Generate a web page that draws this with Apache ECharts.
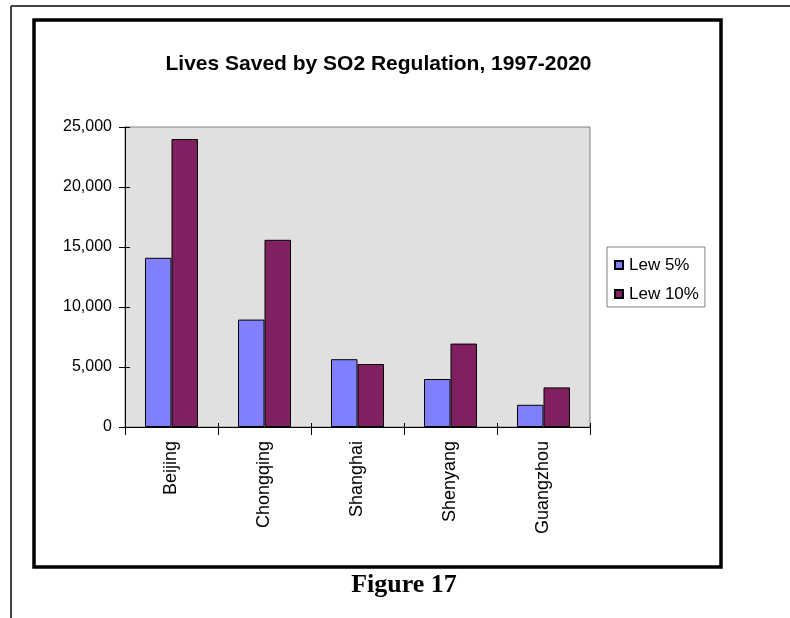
<!DOCTYPE html>
<html>
<head>
<meta charset="utf-8">
<script src="https://cdn.jsdelivr.net/npm/echarts@6/dist/echarts.min.js"></script>
<style>
  html, body { margin: 0; padding: 0; background: #ffffff; }
  #chart { width: 790px; height: 618px; }
</style>
</head>
<body>
<div id="chart"></div>
<script>
// Cities and lives saved under the two levy scenarios
const cities = ['Beijing', 'Chongqing', 'Shanghai', 'Shenyang', 'Guangzhou'];
const levy5 = [14100, 8950, 5650, 4000, 1850];
const levy10 = [24000, 15600, 5250, 6950, 3300];
const seriesNames = ['Lew 5%', 'Lew 10%'];
const chartTitle = 'Lives Saved by SO2 Regulation, 1997-2020';
const figureCaption = 'Figure 17';
const yTicks = { min: 0, max: 25000, interval: 5000 };

const chart = echarts.init(document.getElementById('chart'), null, { renderer: 'canvas' });

const sans = '"Liberation Sans", Arial, sans-serif';
const fmt = v => v.toLocaleString('en-US');
const gridPos = { left: 125, right: 200, top: 127, bottom: 191 };

const option = {
  backgroundColor: '#ffffff',
  animation: false,
  legend: {
    orient: 'vertical',
    left: 607,
    top: 247,
    padding: [9, 6, 4, 7],
    itemGap: 11,
    itemWidth: 8,
    itemHeight: 8,
    icon: 'rect',
    backgroundColor: '#ffffff',
    borderColor: '#808080',
    borderWidth: 1,
    textStyle: { fontFamily: sans, fontSize: 17, color: '#000', lineHeight: 18, padding: [0, 0, 0, 1] },
    data: seriesNames
  },
  grid: Object.assign({
    show: true,
    backgroundColor: '#e0e0e0',
    borderColor: '#808080',
    borderWidth: 1,
    containLabel: false
  }, gridPos),
  xAxis: [{
    type: 'category',
    data: cities,
    boundaryGap: true,
    axisLine: { lineStyle: { color: '#000', width: 1 } },
    axisTick: { show: true, inside: false, length: 8, lineStyle: { color: '#000' } },
    axisLabel: { rotate: 90, margin: 14, fontFamily: sans, fontSize: 18, color: '#000' },
    splitLine: { show: false }
  }, {
    type: 'category',
    data: cities,
    position: 'bottom',
    boundaryGap: true,
    axisLine: { show: false },
    axisTick: { show: true, inside: true, length: 4, lineStyle: { color: '#000' } },
    axisLabel: { show: false },
    splitLine: { show: false }
  }],
  yAxis: [{
    type: 'value',
    min: yTicks.min,
    max: yTicks.max,
    interval: yTicks.interval,
    axisLine: { show: true, lineStyle: { color: '#000', width: 1 } },
    axisTick: { show: true, inside: false, length: 6, lineStyle: { color: '#000' } },
    axisLabel: { margin: 13, fontFamily: sans, fontSize: 16, color: '#000', formatter: fmt },
    splitLine: { show: false }
  }, {
    type: 'value',
    position: 'left',
    min: yTicks.min,
    max: yTicks.max,
    interval: yTicks.interval,
    axisLine: { show: false },
    axisTick: { show: true, inside: true, length: 5, lineStyle: { color: '#000' } },
    axisLabel: { show: false },
    splitLine: { show: false }
  }],
  series: [{
    name: seriesNames[0],
    type: 'bar',
    data: levy5,
    barGap: '0%',
    barCategoryGap: '43%',
    itemStyle: { color: '#8080ff', borderColor: '#000', borderWidth: 1 }
  }, {
    name: seriesNames[1],
    type: 'bar',
    data: levy10,
    barGap: '0%',
    barCategoryGap: '43%',
    itemStyle: { color: '#802060', borderColor: '#000', borderWidth: 1 }
  }],
  graphic: [
    // thin page rules along the top and left
    { type: 'line', shape: { x1: 11, y1: 6, x2: 790, y2: 6 }, style: { stroke: '#444', lineWidth: 2 } },
    { type: 'line', shape: { x1: 11, y1: 6, x2: 11, y2: 618 }, style: { stroke: '#444', lineWidth: 2 } },
    // heavy frame around the chart
    { type: 'rect', shape: { x: 34, y: 20, width: 687, height: 547 }, style: { fill: null, stroke: '#000', lineWidth: 3.5 } },
    // chart title
    {
      type: 'text', x: 378.5, y: 53.5,
      style: { text: chartTitle, textAlign: 'center', textVerticalAlign: 'top',
               font: 'bold 21px ' + sans, fill: '#000' }
    },
    // caption below the frame
    {
      type: 'text', x: 404, y: 572,
      style: { text: figureCaption, textAlign: 'center', textVerticalAlign: 'top',
               font: 'bold 26px "Liberation Serif", "Times New Roman", serif', fill: '#000' }
    }
  ]
};

chart.setOption(option);
</script>
</body>
</html>
